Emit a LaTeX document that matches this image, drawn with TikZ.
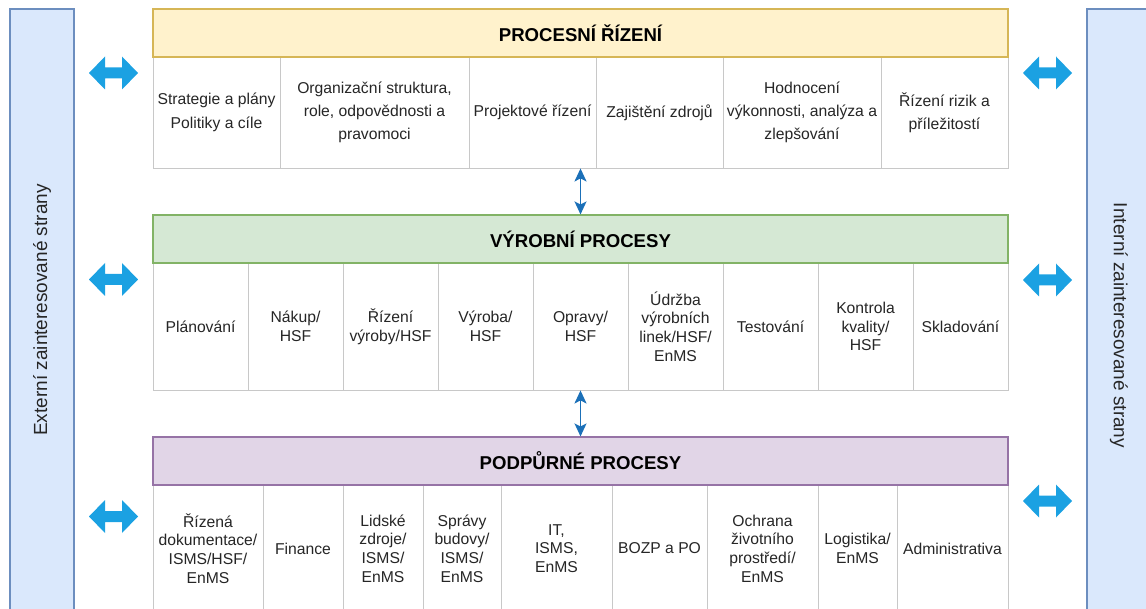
\documentclass[tikz,border=0pt]{standalone}
\usepackage{fontspec}
\setmainfont{Liberation Sans}
\usetikzlibrary{arrows.meta}

\definecolor{yelFill}{HTML}{FFF2CC}
\definecolor{yelLine}{HTML}{D6B656}
\definecolor{grnFill}{HTML}{D5E8D4}
\definecolor{grnLine}{HTML}{82B366}
\definecolor{purFill}{HTML}{E1D5E7}
\definecolor{purLine}{HTML}{9673A6}
\definecolor{barFill}{HTML}{DAE8FC}
\definecolor{barLine}{HTML}{6C8EBF}
\definecolor{cellLine}{HTML}{C8C8C8}
\definecolor{cellText}{HTML}{262626}
\definecolor{bigArrow}{HTML}{1BA1E2}
\definecolor{connBlue}{HTML}{1B70B8}

\tikzset{
  cell/.style={draw=cellLine, line width=0.9pt, fill=white, align=center,
    text=cellText, inner sep=0pt, minimum height=127pt,
    font=\fontsize{15.7}{18.7}\selectfont},
  toprow/.style={cell, minimum height=111pt,
    font=\fontsize{15.7}{23.3}\selectfont},
  header/.style={line width=1.1pt, minimum width=855pt, minimum height=48pt,
    inner sep=0pt, font=\fontsize{18.6}{22}\selectfont\bfseries},
  sidebar/.style={draw=barLine, fill=barFill, line width=1.3pt, inner sep=0pt,
    font=\fontsize{19}{23}\selectfont, text=cellText},
  vconn/.style={draw=connBlue, line width=1.7pt,
    {Stealth[length=13pt,width=12pt,inset=3pt]}-{Stealth[length=13pt,width=12pt,inset=3pt]}},
  sidearrow/.pic={
    \fill[bigArrow] (-24.5,0) -- (-8.5,-16.5) -- (-8.5,-5.5) -- (8.5,-5.5) -- (8.5,-16.5)
      -- (24.5,0) -- (8.5,16.5) -- (8.5,5.5) -- (-8.5,5.5) -- (-8.5,16.5) -- cycle;
  }
}

\begin{document}
\begin{tikzpicture}[x=1pt,y=-1pt]
\useasboundingbox (0,0) rectangle (1146,609);
\clip (0,0) rectangle (1146,609);

% stakeholder bars on both sides
\node[sidebar, minimum width=64pt, minimum height=602pt] (ext) at (42,310)
  {\rotatebox{90}{Externí zainteresované strany}};
\node[sidebar, minimum width=64pt, minimum height=633pt] (int) at (1119,325.5)
  {\rotatebox{-90}{Interní zainteresované strany}};

% process management row
\node[toprow, minimum width=127pt] (p1) at (216.5,112.5) {Strategie a plány\\Politiky a cíle};
\node[toprow, minimum width=189pt] (p2) at (374.5,112.5) {Organizační struktura,\\role, odpovědnosti a\\pravomoci};
\node[toprow, minimum width=127pt] (p3) at (532.5,112.5) {Projektové řízení};
\node[toprow, minimum width=127pt] (p4) at (659.5,112.5) {Zajištění zdrojů};
\node[toprow, minimum width=158pt] (p5) at (802,112.5) {Hodnocení\\výkonnosti, analýza a\\zlepšování};
\node[toprow, minimum width=127pt] (p6) at (944.5,112.5) {Řízení rizik a\\příležitostí};
\node[header, draw=yelLine, fill=yelFill] (h1) at (580.5,33) {PROCESNÍ ŘÍZENÍ};

% production processes row
\node[cell, minimum width=95pt] (v1) at (200.5,326.5) {Plánování};
\node[cell, minimum width=95pt] (v2) at (295.5,326.5) {Nákup/\\HSF};
\node[cell, minimum width=95pt] (v3) at (390.5,326.5) {Řízení\\výroby/HSF};
\node[cell, minimum width=95pt] (v4) at (485.5,326.5) {Výroba/\\HSF};
\node[cell, minimum width=95pt] (v5) at (580.5,326.5) {Opravy/\\HSF};
\node[cell, minimum width=95pt] (v6) at (675.5,326.5) {Údržba\\výrobních\\linek/HSF/\\EnMS};
\node[cell, minimum width=95pt] (v7) at (770.5,326.5) {Testování};
\node[cell, minimum width=95pt] (v8) at (865.5,326.5) {Kontrola\\kvality/\\HSF};
\node[cell, minimum width=95pt] (v9) at (960.5,326.5) {Skladování};
\node[header, draw=grnLine, fill=grnFill] (h2) at (580.5,239) {VÝROBNÍ PROCESY};

% support processes row
\node[cell, minimum width=110pt] (s1) at (208,548.5) {Řízená\\dokumentace/\\ISMS/HSF/\\EnMS};
\node[cell, minimum width=80pt] (s2) at (303,548.5) {Finance};
\node[cell, minimum width=80pt] (s3) at (383,548.5) {Lidské\\zdroje/\\ISMS/\\EnMS};
\node[cell, minimum width=78pt] (s4) at (462,548.5) {Správy\\budovy/\\ISMS/\\EnMS};
\node[cell, minimum width=111pt] (s5) at (556.5,548.5) {IT,\\ISMS,\\EnMS};
\node[cell, minimum width=95pt] (s6) at (659.5,548.5) {BOZP a PO};
\node[cell, minimum width=111pt] (s7) at (762.5,548.5) {Ochrana\\životního\\prostředí/\\EnMS};
\node[cell, minimum width=79pt] (s8) at (857.5,548.5) {Logistika/\\EnMS};
\node[cell, minimum width=111pt] (s9) at (952.5,548.5) {Administrativa};
\node[header, draw=purLine, fill=purFill] (h3) at (580.5,461) {PODPŮRNÉ PROCESY};

% links between the levels
\draw[vconn] (h2.north |- p3.south) -- (h2.north);
\draw[vconn] (h3.north |- v5.south) -- (h3.north);

% exchanges with the stakeholders
\pic at (113.5,73) {sidearrow};
\pic at (1047.5,73) {sidearrow};
\pic at (113.5,279.5) {sidearrow};
\pic at (1047.5,280) {sidearrow};
\pic at (113.5,516.5) {sidearrow};
\pic at (1047.5,501) {sidearrow};
\end{tikzpicture}
\end{document}
